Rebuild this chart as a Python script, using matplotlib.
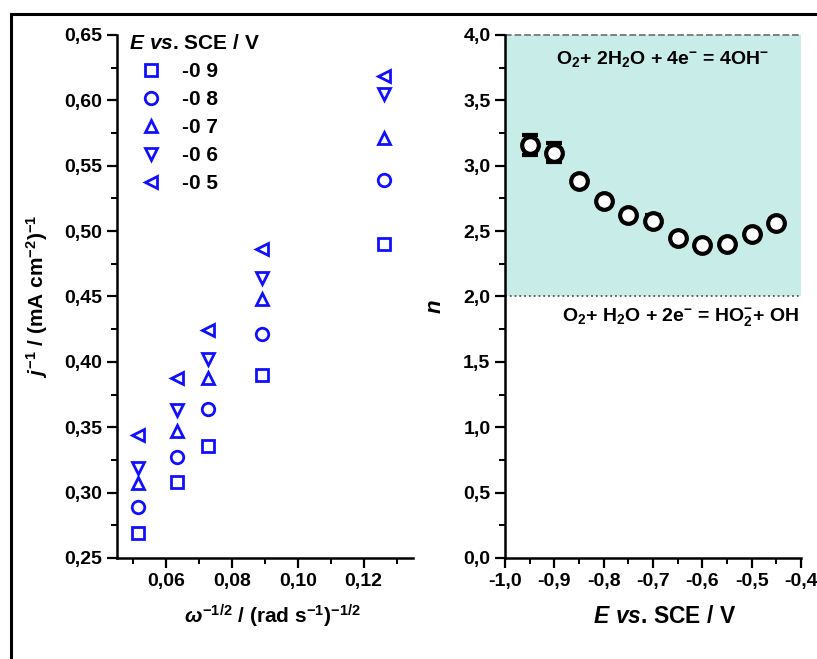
import matplotlib
matplotlib.use('Agg')
import matplotlib.pyplot as plt
from matplotlib.ticker import MultipleLocator, FuncFormatter
from matplotlib.patches import Rectangle

plt.rcParams['font.family'] = ['Liberation Sans', 'DejaVu Sans']
plt.rcParams['font.weight'] = 'bold'
plt.rcParams['axes.labelweight'] = 'bold'
plt.rcParams['mathtext.fontset'] = 'custom'
plt.rcParams['mathtext.rm'] = 'Liberation Sans:bold'
plt.rcParams['mathtext.bf'] = 'Liberation Sans:bold'
plt.rcParams['mathtext.it'] = 'Liberation Sans:italic:bold'
plt.rcParams['mathtext.default'] = 'rm'

# Koutecky-Levich data (left)
omega_inv_sqrt = [0.0515, 0.0631, 0.0728, 0.0892, 0.1262]
potentials = ['-0 9', '-0 8', '-0 7', '-0 6', '-0 5']
markers = ['s', 'o', '^', 'v', '<']
j_inv = {
    '-0 9': [0.269, 0.308, 0.336, 0.390, 0.490],
    '-0 8': [0.289, 0.327, 0.364, 0.421, 0.539],
    '-0 7': [0.307, 0.347, 0.388, 0.448, 0.571],
    '-0 6': [0.319, 0.363, 0.402, 0.464, 0.605],
    '-0 5': [0.344, 0.388, 0.424, 0.486, 0.619],
}

# number of electrons (right)
E_vals = [-0.95, -0.90, -0.85, -0.80, -0.75, -0.70, -0.65, -0.60, -0.55, -0.50, -0.45]
n_vals = [3.16, 3.10, 2.88, 2.73, 2.62, 2.58, 2.45, 2.39, 2.40, 2.48, 2.56]
n_err = [0.075, 0.075, 0.03, 0.02, 0.03, 0.04, 0.02, 0.03, 0.03, 0.03, 0.03]

def comma(fmt):
    return FuncFormatter(lambda v, p: (fmt % v).replace('.', ','))

fig = plt.figure(figsize=(8.17, 6.59), dpi=100)
ax1 = fig.add_axes([0.1432, 0.1533, 0.3623, 0.7936])
ax2 = fig.add_axes([0.6181, 0.1533, 0.3623, 0.7936])

# frame around the whole figure
fig.patches.append(Rectangle((0.0135, -0.2), 2.0, 0.9788 + 0.2, transform=fig.transFigure,
                             fill=False, edgecolor='black', linewidth=2.2))

for ax in (ax1, ax2):
    ax.spines['top'].set_visible(False)
    ax.spines['right'].set_visible(False)
    ax.spines['left'].set_linewidth(1.8)
    ax.spines['bottom'].set_linewidth(1.8)
    ax.tick_params(which='major', direction='out', length=7, width=1.6, labelsize=14)
    ax.tick_params(which='minor', direction='out', length=4.5, width=1.4)
    ax.patch.set_alpha(0)

# left plot
for pot, mk in zip(potentials, markers):
    ax1.plot(omega_inv_sqrt, j_inv[pot], linestyle='none', marker=mk, markersize=9,
             markerfacecolor='none', markeredgecolor='#1010ff', markeredgewidth=2, label=pot)
ax1.set_xlim(0.045, 0.135)
ax1.set_ylim(0.25, 0.65)
ax1.xaxis.set_major_locator(MultipleLocator(0.02))
ax1.xaxis.set_minor_locator(MultipleLocator(0.01))
ax1.yaxis.set_major_locator(MultipleLocator(0.05))
ax1.yaxis.set_minor_locator(MultipleLocator(0.025))
ax1.xaxis.set_major_formatter(comma('%.2f'))
ax1.yaxis.set_major_formatter(comma('%.2f'))
ax1.set_xlabel(r'$\mathit{\omega}^{-1/2}$ / (rad s$^{-1}$)$^{-1/2}$', fontsize=15)
ax1.xaxis.set_label_coords(0.524, -0.085)
ax1.set_ylabel(r'$\mathit{j}^{-1}$ / (mA cm$^{-2}$)$^{-1}$', fontsize=15)
ax1.yaxis.set_label_coords(-0.225, 0.5)
leg = ax1.legend(loc='upper left', bbox_to_anchor=(-0.022, 1.037), frameon=False,
                 title=r'$\mathit{E\ vs}$. SCE / V', title_fontsize=15,
                 fontsize=15, numpoints=1, handlelength=2.1, handletextpad=0.43,
                 labelspacing=0.43, alignment='left')

# right plot
ax2.fill_between([-1.0, -0.4], 2.0, 4.0, color='#c8ece8', linewidth=0, zorder=0)
ax2.plot([-1.0, -0.4], [4.0, 4.0], linestyle='--', color='#777777', linewidth=1.3, clip_on=False)
ax2.plot([-1.0, -0.4], [2.0, 2.0], linestyle=':', color='#555555', linewidth=1.3)
ax2.errorbar(E_vals, n_vals, yerr=n_err, fmt='o', markersize=12, markerfacecolor='white',
             markeredgecolor='black', markeredgewidth=3, ecolor='black', elinewidth=1.8,
             capsize=6, capthick=1.8, zorder=3)
ax2.set_xlim(-1.0, -0.4)
ax2.set_ylim(0.0, 4.0)
ax2.xaxis.set_major_locator(MultipleLocator(0.1))
ax2.xaxis.set_minor_locator(MultipleLocator(0.05))
ax2.yaxis.set_major_locator(MultipleLocator(0.5))
ax2.yaxis.set_minor_locator(MultipleLocator(0.25))
ax2.xaxis.set_major_formatter(comma('%.1f'))
ax2.yaxis.set_major_formatter(comma('%.1f'))
ax2.set_xlabel(r'$\mathit{E\ vs}$. SCE / V', fontsize=16.5)
ax2.xaxis.set_label_coords(0.54, -0.09)
ax2.set_ylabel(r'$\mathit{n}$', fontsize=16)
ax2.yaxis.set_label_coords(-0.2, 0.48)
ax2.text(-0.68, 3.82, r'O$_2$+ 2H$_2$O + 4e$^{-}$ = 4OH$^{-}$', fontsize=14,
         ha='center', va='center')
ax2.text(-0.885, 1.84, r'O$_2$+ H$_2$O + 2e$^{-}$ = HO$_2^{-}$+ OH', fontsize=14,
         ha='left', va='center', clip_on=False)

plt.savefig('out.png', dpi=100)
